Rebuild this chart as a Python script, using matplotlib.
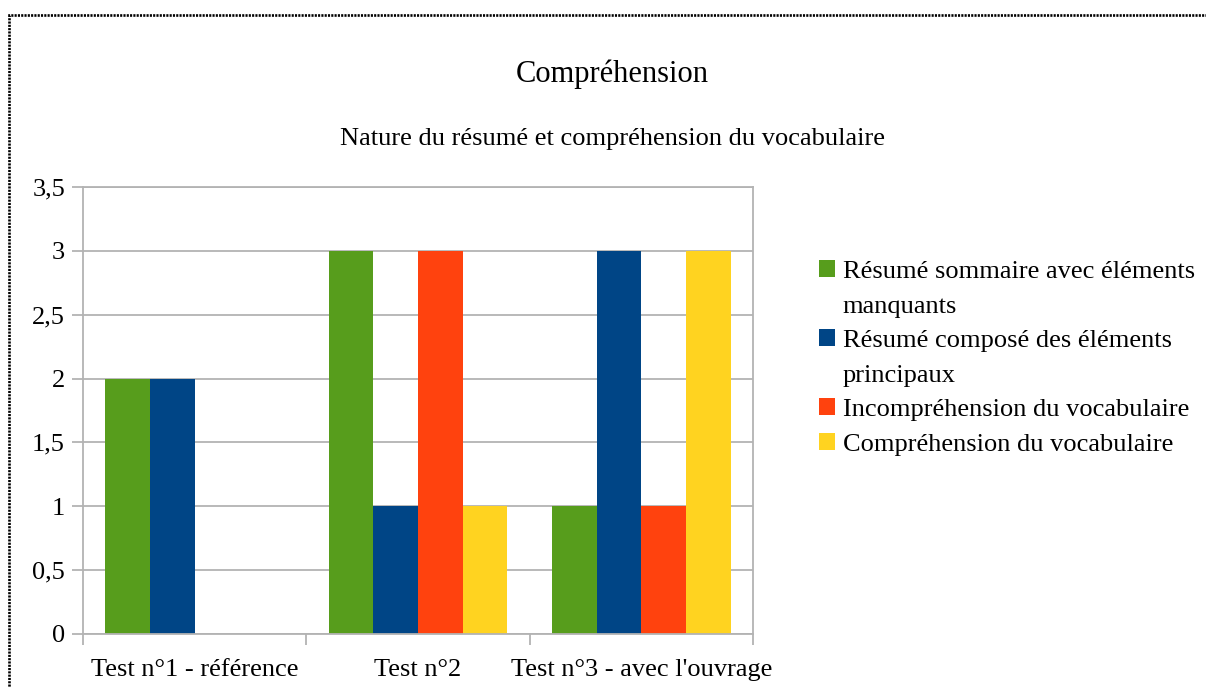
import numpy as np
import matplotlib
matplotlib.use("Agg")
from matplotlib import pyplot as plt
from matplotlib.patches import Patch, Rectangle
from matplotlib.ticker import FuncFormatter, FixedLocator

plt.rcParams['font.family'] = ['Liberation Serif', 'DejaVu Serif']

categories = ["Test n°1 - référence", "Test n°2", "Test n°3 - avec l'ouvrage"]
series_names = ["Résumé sommaire avec éléments\nmanquants",
                "Résumé composé des éléments\nprincipaux",
                "Incompréhension du vocabulaire",
                "Compréhension du vocabulaire"]
series_values = [[2, 3, 1],
                 [2, 1, 3],
                 [0, 3, 1],
                 [0, 1, 3]]
colors = ['#579d1c', '#004586', '#ff420e', '#ffd320']
y_ticks = [0, 0.5, 1, 1.5, 2, 2.5, 3, 3.5]

grey = '#b3b3b3'
fs = 19

fig = plt.figure(figsize=(12.06, 6.87), dpi=100)
ax = fig.add_axes([83 / 1206, 1 - 634 / 687, (753 - 83) / 1206, (634 - 187) / 687])

x = np.arange(len(categories))
w = 0.2
for j, (vals, c) in enumerate(zip(series_values, colors)):
    ax.bar(x + (j - 1.5) * w, vals, width=w, color=c, linewidth=0, zorder=2)

ax.set_xlim(-0.5, len(categories) - 0.5)
ax.set_ylim(0, 3.5)
ax.set_yticks(y_ticks)
ax.yaxis.set_major_formatter(FuncFormatter(lambda v, p: ('%g' % v).replace('.', ',')))
ax.yaxis.grid(True, color=grey, linewidth=1.3, zorder=1)
ax.set_axisbelow(True)

ax.xaxis.set_major_locator(FixedLocator(np.arange(len(categories) + 1) - 0.5))
ax.xaxis.set_minor_locator(FixedLocator(x))
ax.set_xticklabels([])
ax.set_xticklabels(categories, minor=True)
ax.tick_params(axis='x', which='major', length=8, width=1.3, color=grey)
ax.tick_params(axis='x', which='minor', length=0, pad=18, labelsize=fs)
ax.tick_params(axis='y', length=8, width=1.3, color=grey, pad=5, labelsize=fs)
for s in ax.spines.values():
    s.set_color(grey)
    s.set_linewidth(1.3)

fig.text(0.5075, 1 - 74 / 687, "Compréhension", ha='center', va='center', fontsize=22)
fig.text(0.5075, 1 - 139 / 687, "Nature du résumé et compréhension du vocabulaire",
         ha='center', va='center', fontsize=fs)

# legend: wrapped names get an empty handle for the second line
handles, labels = [], []
for name, c in zip(series_names, colors):
    lines = name.split('\n')
    handles.append(Patch(facecolor=c, edgecolor='none'))
    labels.append(lines[0])
    for extra in lines[1:]:
        handles.append(Patch(facecolor='none', edgecolor='none'))
        labels.append(extra)
fig.legend(handles, labels, loc='center left', bbox_to_anchor=(819 / 1206, 1 - 358 / 687),
           frameon=False, fontsize=fs, handlelength=0.6, handleheight=0.6,
           handletextpad=0.3, labelspacing=0.45, borderpad=0, borderaxespad=0)

# dotted frame around the chart
fig.patches.append(Rectangle((9 / 1206, -0.1), 1.2, 1 - 15 / 687 + 0.1,
                             transform=fig.transFigure, fill=False, edgecolor='black',
                             linewidth=1.9, linestyle=(0, (0.8, 0.45))))

fig.savefig('out.png', dpi=100)
